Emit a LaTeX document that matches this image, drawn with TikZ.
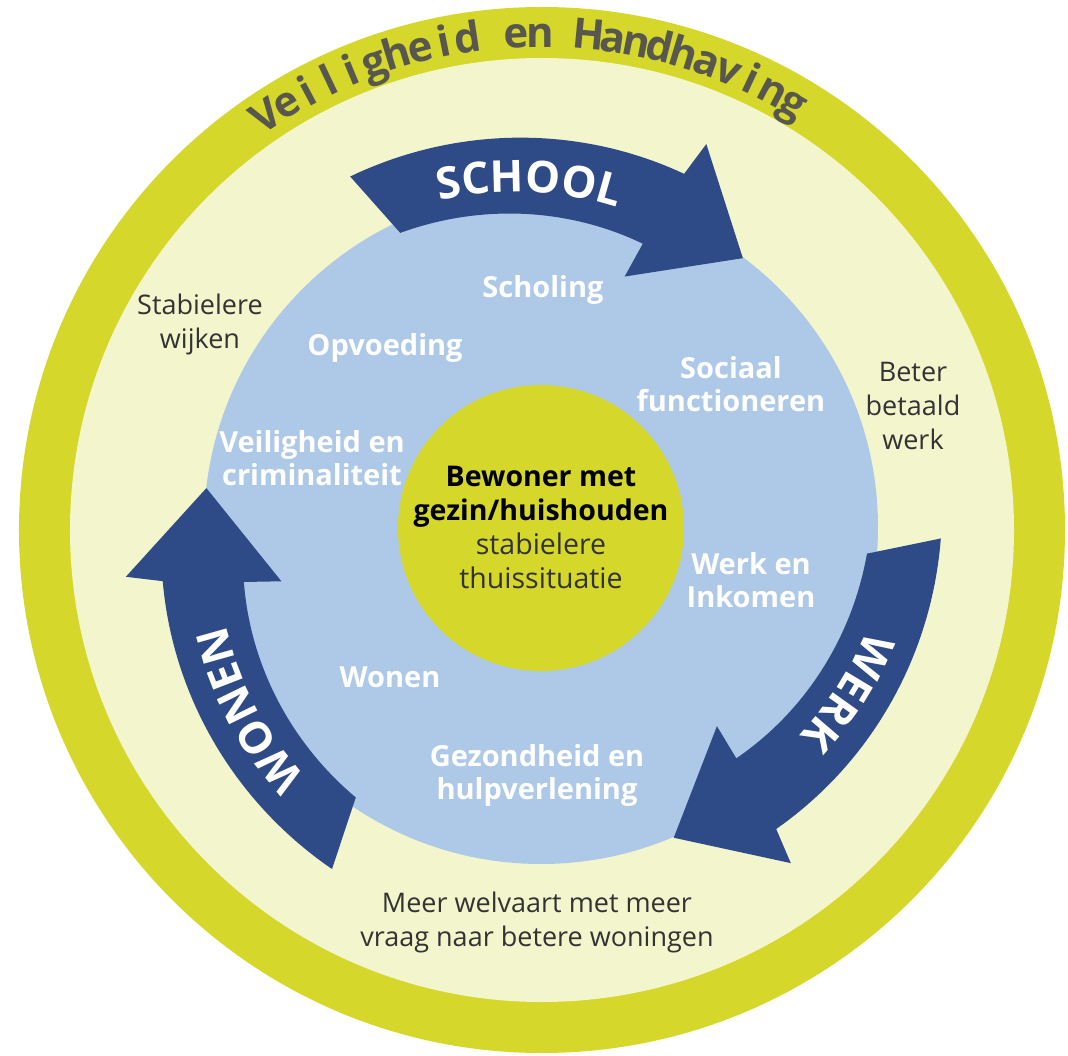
\documentclass[tikz,border=0pt]{standalone}
\usepackage{fontspec}
\setmainfont{Open Sans}
\usetikzlibrary{decorations.text}
\definecolor{ringgreen}{HTML}{D5D72B}
\definecolor{creamy}{HTML}{F3F5CC}
\definecolor{lightblue}{HTML}{AEC9E8}
\definecolor{arrowblue}{HTML}{2E4A87}
\definecolor{titlegray}{HTML}{57564F}
\definecolor{txtgray}{HTML}{333333}
\newcommand\titlefont{\fontsize{42}{48}\selectfont\bfseries}
\newcommand\arrowfont{\fontsize{44}{50}\selectfont\bfseries\color{white}}
\newcommand\lblfont{\fontsize{29}{33}\selectfont\bfseries}
\newcommand\outfont{\fontsize{27}{34}\selectfont}
\newcommand\midfont{\fontsize{28.5}{34}\selectfont}
\newdimen\chw
\newdimen\ttlpos
\begin{document}
\begin{tikzpicture}[x=1pt, y=1pt, line join=round,
	lbl/.style={text=white, font=\lblfont, align=center},
	outtxt/.style={text=txtgray, font=\outfont, align=center}]
	\def\rout{523} \def\rin{472} \def\rblue{337} \def\rmid{143}
	\def\rttl{481} \def\ttlspan{542}
	\def\ttltext{V,e,i,l,i,g,h,e,i,d,~,e,n,~,H,a,n,d,h,a,v,i,n,g}
	\useasboundingbox (-541,-527) rectangle (527,528);
	%ringen
	\fill[ringgreen] (1,-2) circle (\rout);
	\fill[creamy] (1,-2) circle (\rin);
	\fill[lightblue] (0,1) circle (\rblue);
	\fill[ringgreen] (0,0) circle (\rmid);
	%titel in de ring, letter voor letter
	\global\ttlpos=0pt
	\foreach \c in \ttltext {\settowidth\chw{\titlefont\c}\global\advance\ttlpos by \chw}
	\pgfmathsetmacro\ttlsp{(\ttlspan-\ttlpos)/23}
	\pgfmathsetmacro\ttlstart{91.5+0.5*\ttlspan/\rttl*180/pi}
	\global\ttlpos=0pt
	\foreach \c [count=\i] in \ttltext {
		\settowidth\chw{\titlefont\c}
		\pgfmathsetmacro\ang{\ttlstart-(\ttlpos+0.5*\chw)/\rttl*180/pi}
		\node[anchor=base, inner sep=0, text=titlegray, font=\titlefont, rotate=\ang-90] (t\i) at (\ang:\rttl) {\c};
		\global\advance\ttlpos by \chw
		\global\advance\ttlpos by \ttlsp pt
	}
	%pijlen
	\foreach \a/\w in {0/SCHOOL,-120/WERK,120/WONEN}{
		\begin{scope}[rotate=\a]
			\fill[arrowblue] plot[domain=118.5:68, samples=40, variable=\t] (\t:{382+(\t-68)*0.356})
			-- (66.7:418) -- (53.2:337) -- (71.6:265) -- (70.3:302)
			-- plot[domain=70.3:115.5, samples=40, variable=\t] (\t:{302+(\t-70.3)*0.553}) -- cycle;
			\path[decorate, decoration={text along path, text align=center, text/.expanded={|\noexpand\arrowfont|\w}}]
			plot[domain=120:63, samples=40, smooth, variable=\t] (\t:{336+(\t-91.5)*0.45});
		\end{scope}
	}
	%teksten
	\node[outtxt] (wijken) at (-341,204) {Stabielere\\wijken};
	\node[outtxt] (loon) at (372,122) {Beter\\betaald\\werk};
	\node[outtxt] (welvaart) at (-4,-394) {Meer welvaart met meer\\vraag naar betere woningen};
	\node[lbl] (scholing) at (2,238) {Scholing};
	\node[lbl] (opvoeding) at (-156,180) {Opvoeding};
	\node[lbl] (sociaal) at (190,144) {Sociaal\\functioneren};
	\node[lbl] (veiligheid) at (-229,70) {Veiligheid en\\criminaliteit};
	\node[lbl] (werk) at (210,-52) {Werk en\\Inkomen};
	\node[lbl] (wonen) at (-151,-149) {Wonen};
	\node[lbl] (zorg) at (-4,-247) {Gezondheid en\\hulpverlening};
	\node[font=\midfont, align=center] (bewoner) at (0,1)
		{\textbf{Bewoner met}\\\textbf{gezin/huishouden}\\{\color{txtgray}stabielere}\\{\color{txtgray}thuissituatie}};
\end{tikzpicture}
\end{document}
